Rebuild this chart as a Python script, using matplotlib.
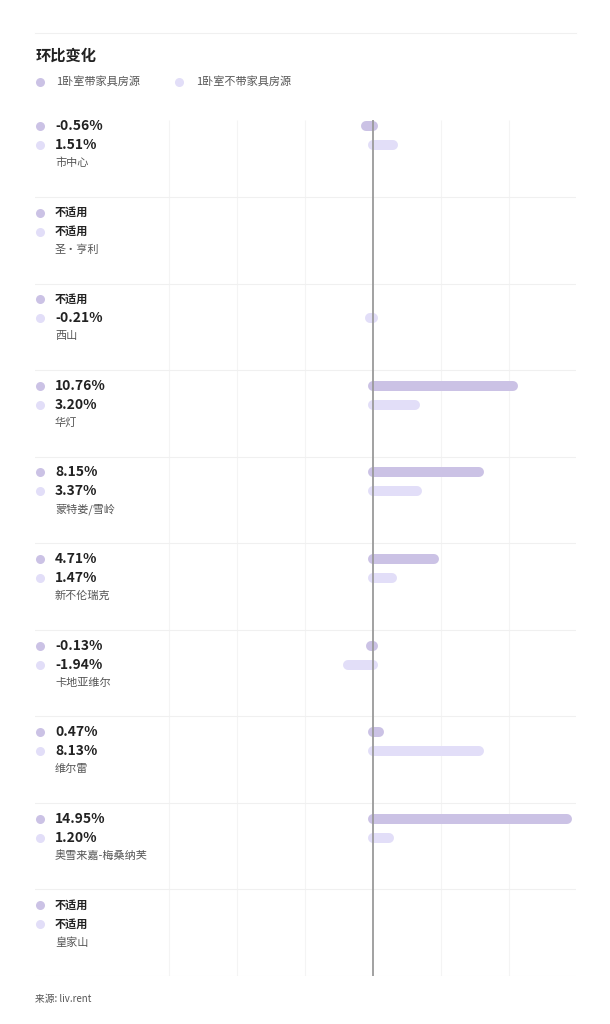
import numpy as np
import matplotlib
matplotlib.use("Agg")
import matplotlib.pyplot as plt
from matplotlib.lines import Line2D
import matplotlib.transforms as mtransforms

plt.rcParams['font.family'] = ['Noto Sans CJK SC', 'DejaVu Sans']

# data
areas = ["市中心", "圣·亨利", "西山", "华灯", "蒙特娄/雪岭", "新不伦瑞克",
         "卡地亚维尔", "维尔雷", "奥雪来嘉-梅桑纳芙", "皇家山"]
furnished = [-0.56, None, None, 10.76, 8.15, 4.71, -0.13, 0.47, 14.95, None]
unfurnished = [1.51, None, -0.21, 3.20, 3.37, 1.47, -1.94, 8.13, 1.20, None]
series_names = ["1卧室带家具房源", "1卧室不带家具房源"]
title = "环比变化"
source = "来源: liv.rent"

c_furn = "#cbc2e5"
c_unfurn = "#e2def8"

W, H = 610, 1024
fig = plt.figure(figsize=(W / 100, H / 100), dpi=100)
fig.patch.set_facecolor("white")

# layout in pixels
left_px, right_px, top_px, bottom_px = 35, 576, 110.4, 976
zero_px, px_per = 373, 13.0

ax = fig.add_axes([left_px / W, 1 - bottom_px / H,
                   (right_px - left_px) / W, (bottom_px - top_px) / H])
ax.set_xlim((left_px - zero_px) / px_per, (right_px - zero_px) / px_per)
ax.set_ylim(len(areas), 0)
ax.axis("off")

def xfrac(px):
    return (px - left_px) / (right_px - left_px)

trans = mtransforms.blended_transform_factory(ax.transAxes, ax.transData)

# grid
step = 68 / px_per
ticks = [-3 * step, -2 * step, -step, step, 2 * step, 3 * step]
ax.vlines(ticks, 0.11, len(areas), color="#f4f4f4", lw=0.8, zorder=0)
for i in range(1, len(areas) + 1):
    ax.axhline(i, color="#f0f0f0", lw=0.8, zorder=0)
ax.vlines(0, 0.11, len(areas), color="#9a9a9a", lw=1.3, zorder=3)

y1_off, y2_off, name_off = 0.182, 0.402, 0.61

for i, name in enumerate(areas):
    y1 = i + y1_off
    y2 = i + y2_off
    for y, val, col in [(y1, furnished[i], c_furn), (y2, unfurnished[i], c_unfurn)]:
        ax.plot([xfrac(39.5)], [y], "o", color=col, ms=6.5, mec="none",
                transform=trans, clip_on=False)
        if val is None:
            ax.text(xfrac(55), y, "不适用", transform=trans, fontsize=8,
                    fontweight="bold", color="#222222", va="center", ha="left")
        else:
            ax.text(xfrac(55), y, f"{val:.2f}%", transform=trans, fontsize=10,
                    fontweight="bold", color="#222222", va="center", ha="left")
            ax.plot([0, val], [y, y], color=col, lw=7.2,
                    solid_capstyle="round", zorder=2)
    ax.text(xfrac(55), i + name_off, name, transform=trans, fontsize=8,
            color="#555555", va="center", ha="left")

# header
fig.add_artist(Line2D([left_px / W, right_px / W], [1 - 33 / H, 1 - 33 / H],
                      color="#f0f0f0", lw=0.8, transform=fig.transFigure))
fig.text(36 / W, 1 - 56 / H, title, fontsize=11, fontweight="bold",
         color="#222222", va="center", ha="left")
for xd, xt, col, lab in [(40, 56, c_furn, series_names[0]),
                         (179, 196, c_unfurn, series_names[1])]:
    fig.add_artist(Line2D([xd / W], [1 - 81.5 / H], marker="o", ms=6.5,
                          color=col, mec="none", transform=fig.transFigure))
    fig.text(xt / W, 1 - 81.5 / H, lab, fontsize=8, color="#555555",
             va="center", ha="left")

fig.text(35 / W, 1 - 999 / H, source, fontsize=7, color="#555555",
         va="center", ha="left")

fig.savefig("out.png", dpi=100, facecolor="white")
